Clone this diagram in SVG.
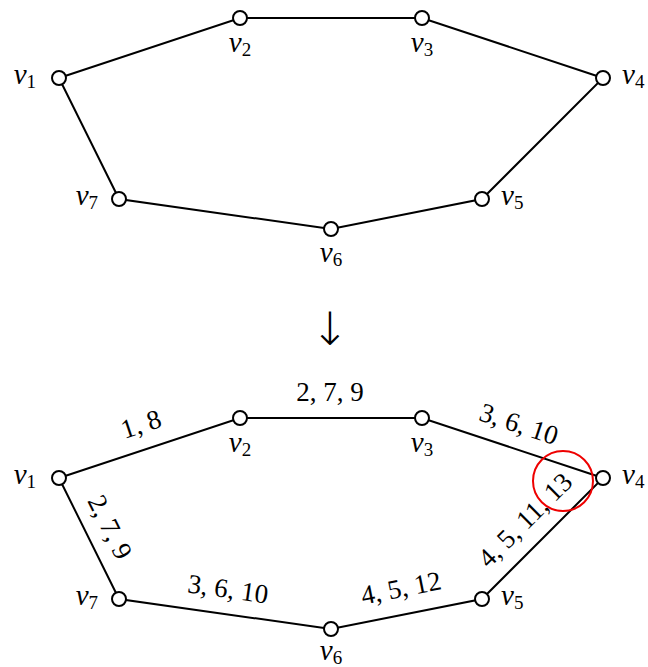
<svg xmlns="http://www.w3.org/2000/svg" width="648" height="667" viewBox="0 0 648 667">
<style>
.e{stroke:#000;stroke-width:2;fill:none}
.n{fill:#fff;stroke:#000;stroke-width:2}
text{font-family:"Liberation Serif","DejaVu Serif",serif;font-size:27px;fill:#000}
.v{font-style:italic;font-size:29px}
.s{font-size:19px;font-style:normal}
.lbl{text-anchor:middle}
</style>
<rect width="648" height="667" fill="#fff"/>
<g id="edges-top">
<polyline class="e" points="59,78 240,18 422,18 603,78 482,199 331,229 119,199 59,78"/>
</g>
<g id="edges-bottom">
<polyline class="e" points="59,478 240,418 422,418 603,478 482,599 331,629 119,599 59,478"/>
</g>
<g id="top-v1"><circle class="n" cx="59" cy="78" r="7"/><text x="36" y="84" text-anchor="end"><tspan class="v">v</tspan><tspan class="s" dy="4">1</tspan></text></g>
<g id="top-v2"><circle class="n" cx="240" cy="18" r="7"/><text x="240" y="52" text-anchor="middle"><tspan class="v">v</tspan><tspan class="s" dy="4">2</tspan></text></g>
<g id="top-v3"><circle class="n" cx="422" cy="18" r="7"/><text x="422" y="52" text-anchor="middle"><tspan class="v">v</tspan><tspan class="s" dy="4">3</tspan></text></g>
<g id="top-v4"><circle class="n" cx="603" cy="78" r="7"/><text x="622" y="84"><tspan class="v">v</tspan><tspan class="s" dy="4">4</tspan></text></g>
<g id="top-v5"><circle class="n" cx="482" cy="199" r="7"/><text x="501" y="205"><tspan class="v">v</tspan><tspan class="s" dy="4">5</tspan></text></g>
<g id="top-v6"><circle class="n" cx="331" cy="229" r="7"/><text x="331" y="262" text-anchor="middle"><tspan class="v">v</tspan><tspan class="s" dy="4">6</tspan></text></g>
<g id="top-v7"><circle class="n" cx="119" cy="199" r="7"/><text x="98" y="205" text-anchor="end"><tspan class="v">v</tspan><tspan class="s" dy="4">7</tspan></text></g>

<g id="arrow"><text x="330" y="345" text-anchor="middle" style="font-family:'DejaVu Sans',sans-serif;font-size:46px;font-weight:200">↓</text></g>

<g id="bot-v1"><circle class="n" cx="59" cy="478" r="7"/><text x="36" y="484" text-anchor="end"><tspan class="v">v</tspan><tspan class="s" dy="4">1</tspan></text></g>
<g id="bot-v2"><circle class="n" cx="240" cy="418" r="7"/><text x="240" y="452" text-anchor="middle"><tspan class="v">v</tspan><tspan class="s" dy="4">2</tspan></text></g>
<g id="bot-v3"><circle class="n" cx="422" cy="418" r="7"/><text x="422" y="452" text-anchor="middle"><tspan class="v">v</tspan><tspan class="s" dy="4">3</tspan></text></g>
<g id="bot-v4"><circle class="n" cx="603" cy="478" r="7"/><text x="622" y="484"><tspan class="v">v</tspan><tspan class="s" dy="4">4</tspan></text></g>
<g id="bot-v5"><circle class="n" cx="482" cy="599" r="7"/><text x="501" y="605"><tspan class="v">v</tspan><tspan class="s" dy="4">5</tspan></text></g>
<g id="bot-v6"><circle class="n" cx="331" cy="629" r="7"/><text x="331" y="660" text-anchor="middle"><tspan class="v">v</tspan><tspan class="s" dy="4">6</tspan></text></g>
<g id="bot-v7"><circle class="n" cx="119" cy="599" r="7"/><text x="98" y="605" text-anchor="end"><tspan class="v">v</tspan><tspan class="s" dy="4">7</tspan></text></g>

<g id="edge-labels">
<text class="lbl" transform="translate(141,424) rotate(-18.3)" y="9">1, 8</text>
<text class="lbl" transform="translate(330,392)" y="9">2, 7, 9</text>
<text class="lbl" transform="translate(519,424) rotate(18.3)" y="9">3, 6, 10</text>
<text class="lbl" transform="translate(525,520) rotate(-45)" y="9">4, 5, 11, 13</text>
<text class="lbl" transform="translate(110,527) rotate(63.6)" y="9">2, 7, 9</text>
<text class="lbl" transform="translate(228,589) rotate(8.05)" y="9">3, 6, 10</text>
<text class="lbl" transform="translate(401,588) rotate(-11.2)" y="9">4, 5, 12</text>
</g>
<g id="highlight"><circle cx="563" cy="481" r="30" fill="none" stroke="#e00" stroke-width="2"/></g>
</svg>
